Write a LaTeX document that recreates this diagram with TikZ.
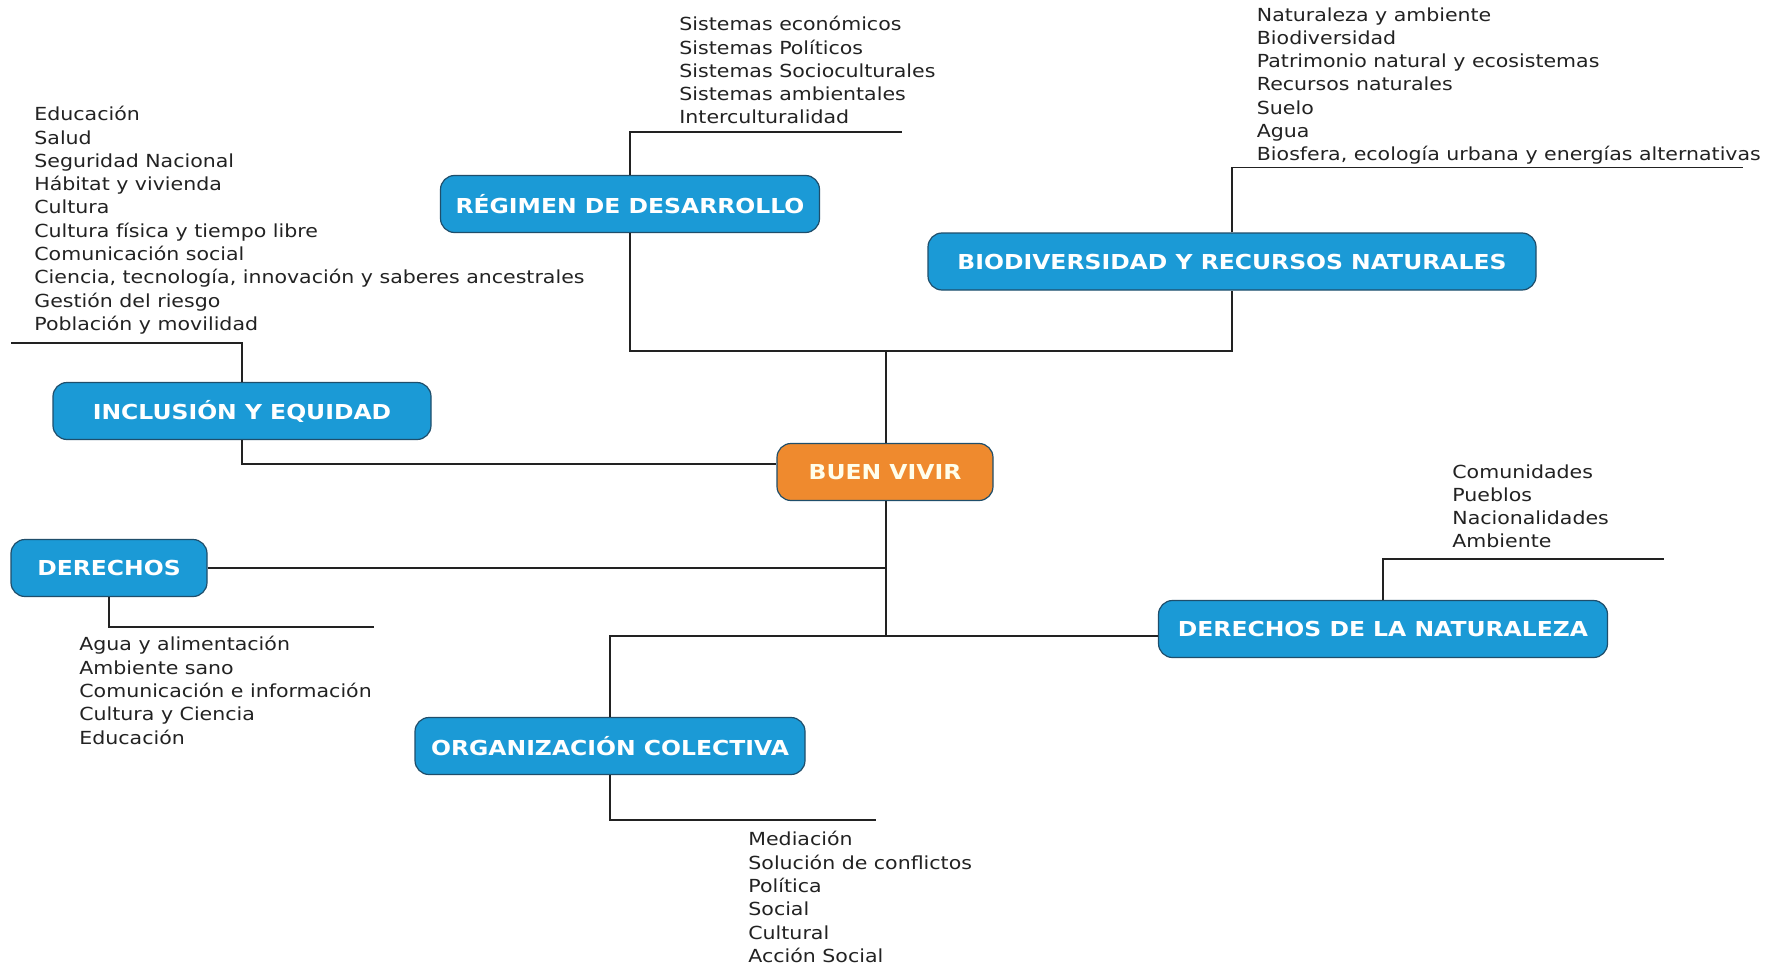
\documentclass[tikz,border=0pt]{standalone}
\usepackage{fontspec}
\setmainfont{DejaVu Sans}[FakeStretch=1.14]
\usetikzlibrary{positioning,calc}
\definecolor{boxblue}{HTML}{1B9AD6}
\definecolor{boxedge}{HTML}{1F4E6B}
\definecolor{boxorange}{HTML}{EF8A2E}
\definecolor{textgray}{HTML}{222222}

\begin{document}
\begin{tikzpicture}[x=0.5pt,y=-0.5pt,
	topic/.style={rectangle, rounded corners=7pt, draw=boxedge, line width=0.6pt, fill=boxblue, text=white, font=\bfseries\fontsize{10.3}{12}\selectfont, minimum height=28.5pt, inner sep=2pt},
	mainbox/.style={topic, fill=boxorange, text={white!92!yellow}},
	itemlist/.style={align=left, anchor=north west, inner sep=0pt, text=textgray, font=\fontsize{9}{11.65}\selectfont},
	link/.style={draw=textgray, line width=0.7pt}]
	\useasboundingbox[fill=white] (0,0) rectangle (1775,968);

	% Boxes
	\node[mainbox, minimum width=108pt] (bv) at (885,472) {BUEN VIVIR};
	\node[topic, minimum width=189.5pt] (reg) at (630,204) {RÉGIMEN DE DESARROLLO};
	\node[topic, minimum width=304pt] (bio) at (1232,261.5) {BIODIVERSIDAD Y RECURSOS NATURALES};
	\node[topic, minimum width=189pt] (inc) at (242,411) {INCLUSIÓN Y EQUIDAD};
	\node[topic, minimum width=98pt] (der) at (109,568) {DERECHOS};
	\node[topic, minimum width=224.5pt] (nat) at (1383,629) {DERECHOS DE LA NATURALEZA};
	\node[topic, minimum width=195pt] (org) at (610,746) {ORGANIZACIÓN COLECTIVA};

	% Junctions and free ends
	\coordinate (top) at (886,351);
	\coordinate (bot) at (886,636);
	\coordinate (regend) at (902,132);
	\coordinate (bioend) at (1743,167.5);
	\coordinate (incend) at (11,343);
	\coordinate (derend) at (373.5,627);
	\coordinate (natend) at (1664,559);
	\coordinate (orgend) at (876,820);

	% Tree lines
	\draw[link] (reg.south) |- (top) -| (bio.south);
	\draw[link] (top) -- (top |- bv.north);
	\draw[link] (inc.south) |- ($(bv.west)+(0,-8)$);
	\draw[link] (bv.south -| bot) -- (bot);
	\draw[link] (der.east) -- (der.east -| bot);
	\draw[link] (org.north) |- (bot) -- (bot -| nat.west);

	% Item lines
	\draw[link] (reg.north) |- (regend);
	\draw[link] (bio.north) |- (bioend);
	\draw[link] (inc.north) |- (incend);
	\draw[link] (der.south) |- (derend);
	\draw[link] (nat.north) |- (natend);
	\draw[link] (org.south) |- (orgend);

	% Item lists
	\node[itemlist] (reglist) at (679,16) {Sistemas económicos\\Sistemas Políticos\\Sistemas Socioculturales\\Sistemas ambientales\\Interculturalidad};
	\node[itemlist] (biolist) at (1256.5,7) {Naturaleza y ambiente\\Biodiversidad\\Patrimonio natural y ecosistemas\\Recursos naturales\\Suelo\\Agua\\Biosfera, ecología urbana y energías alternativas};
	\node[itemlist] (inclist) at (34,106) {Educación\\Salud\\Seguridad Nacional\\Hábitat y vivienda\\Cultura\\Cultura física y tiempo libre\\Comunicación social\\Ciencia, tecnología, innovación y saberes ancestrales\\Gestión del riesgo\\Población y movilidad};
	\node[itemlist] (derlist) at (79,636) {Agua y alimentación\\Ambiente sano\\Comunicación e información\\Cultura y Ciencia\\Educación};
	\node[itemlist] (natlist) at (1452,464) {Comunidades\\Pueblos\\Nacionalidades\\Ambiente};
	\node[itemlist] (orglist) at (748,831) {Mediación\\Solución de conflictos\\Política\\Social\\Cultural\\Acción Social};
\end{tikzpicture}
\end{document}
